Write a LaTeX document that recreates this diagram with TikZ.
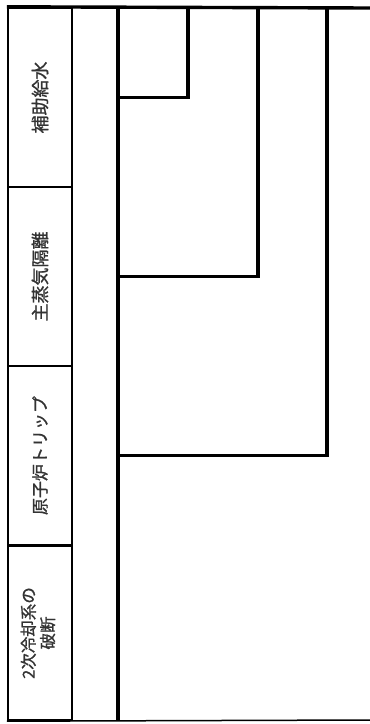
\documentclass[tikz,border=0pt]{standalone}
\usepackage{fontspec}
\newfontfamily\jpfont[FakeBold=1]{Noto Sans CJK JP}
\usetikzlibrary{positioning}

\begin{document}
\begin{tikzpicture}[x=1pt, y=1pt, node distance=179pt]
% Define styles
\tikzstyle{cell} = [rectangle, draw=black, line width=2.4pt, minimum width=64pt, minimum height=179pt, inner sep=0pt, text=black!80, font=\jpfont\fontsize{18}{17}\selectfont, align=center]
\tikzstyle{rail} = [line width=3.4pt, draw=black]
\tikzstyle{branch} = [line width=3.2pt, draw=black, line join=miter]
\useasboundingbox (0,0) rectangle (370,-724);
% Define label cells
\node[cell] (AuxFeed) at (40,-97.5) {\rotatebox{90}{補助給水}};
\node[cell, below of=AuxFeed] (SteamIsol) {\rotatebox{90}{主蒸気隔離}};
\node[cell, below of=SteamIsol, font=\jpfont\fontsize{17}{17}\selectfont] (ReactorTrip) {\rotatebox{90}{原子炉トリップ}};
\node[cell, below of=ReactorTrip, minimum height=174pt, yshift=1.5pt, font=\jpfont\fontsize{16.5}{18}\selectfont] (PipeBreak) {\rotatebox{90}{\begin{tabular}{@{}c@{}}2次冷却系の\\破断\end{tabular}}};
% Define rail and branch ends
\coordinate (RailTop) at (118,-8);
\coordinate (RailEnd) at (118,-720);
\coordinate (AuxTop) at (188,-8);
\coordinate (SteamTop) at (258,-8);
\coordinate (TripTop) at (327,-8);
\coordinate (FrameEnd) at (370,-8);
\coordinate (BaseEnd) at (370,-720);
% Frame lines
\draw[rail] (AuxFeed.north west) -- (FrameEnd);
\draw[line width=1.5pt] (PipeBreak.south west) -- (BaseEnd);
% Rail and branches
\draw[rail] (RailTop) -- (RailEnd);
\draw[branch] (AuxTop) |- (AuxFeed -| RailTop);
\draw[branch] (SteamTop) |- (SteamIsol -| RailTop);
\draw[branch] (TripTop) |- (ReactorTrip -| RailTop);
\end{tikzpicture}
\end{document}
